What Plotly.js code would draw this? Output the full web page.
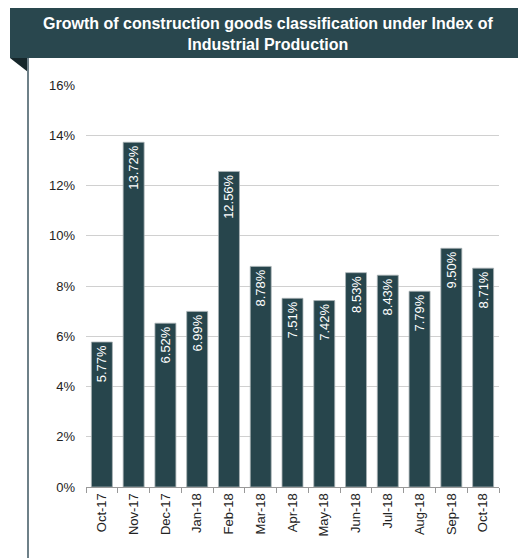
<!DOCTYPE html>
<html><head><meta charset="utf-8">
<script src="https://cdn.plot.ly/plotly-3.0.1.min.js"></script>
<style>html,body{margin:0;padding:0;background:#fff}#c{width:518px;height:558px}</style>
</head><body><div id="c"></div>
<script>
const categories = ["Oct-17","Nov-17","Dec-17","Jan-18","Feb-18","Mar-18","Apr-18","May-18","Jun-18","Jul-18","Aug-18","Sep-18","Oct-18"];
const growth = [5.77,13.72,6.52,6.99,12.56,8.78,7.51,7.42,8.53,8.43,7.79,9.50,8.71];
const titleText = "Growth of construction goods classification under Index of<br>Industrial Production";

const L=86, R=19, T=85, B=71, W=518, H=558;
const pw=W-L-R, ph=H-T-B;
const px = p => (p-L)/pw;
const py = p => (H-B-p)/ph;
const FONT = 'Liberation Sans, Arial, sans-serif';

const trace = {
  type:'bar', x:categories, y:growth,
  text: growth.map(v=>v.toFixed(2)+'%'),
  textposition:'inside', insidetextanchor:'end', textangle:-90,
  textfont:{color:'#ffffff', size:13, family:FONT},
  marker:{color:'#27454c', line:{color:'#a9b3b5', width:0.8}},
  hoverinfo:'none', cliponaxis:false
};
const layout = {
  width:W, height:H, margin:{l:L,r:R,t:T,b:B},
  paper_bgcolor:'#fff', plot_bgcolor:'#fff', showlegend:false, bargap:0.34,
  font:{family:FONT, color:'#222', size:13},
  xaxis:{type:'category', tickangle:-90, showline:true, linecolor:'#999', linewidth:1,
    ticks:'outside', ticklen:5, tickcolor:'#999', tickson:'boundaries', showgrid:false,
    tickfont:{size:13,color:'#222'}},
  yaxis:{range:[0,16], dtick:2, ticksuffix:'%', showgrid:true, gridcolor:'#d0d0d0', gridwidth:1,
    zeroline:false, showline:false, ticklabelstandoff:10, tickfont:{size:13,color:'#222'}},
  shapes:[
    {type:'rect', xref:'paper', yref:'paper', x0:px(10), x1:px(518), y0:py(58), y1:py(8), fillcolor:'#29474e', line:{width:0}, layer:'above'},
    {type:'path', xref:'paper', yref:'paper', path:`M ${px(10)} ${py(58)} L ${px(28)} ${py(58)} L ${px(28)} ${py(72)} Z`, fillcolor:'#16272b', line:{width:0}},
    {type:'line', xref:'paper', yref:'paper', x0:px(28), x1:px(28), y0:py(58), y1:py(558), line:{color:'#6e8088', width:2}}
  ],
  annotations:[
    {xref:'paper', yref:'paper', x:px(268), y:py(34), text:'<b>'+titleText+'</b>', showarrow:false,
     font:{color:'#ffffff', size:16, family:FONT}, align:'center', xanchor:'center', yanchor:'middle'}
  ]
};
Plotly.newPlot('c',[trace],layout,{displayModeBar:false, staticPlot:true});
</script></body></html>
